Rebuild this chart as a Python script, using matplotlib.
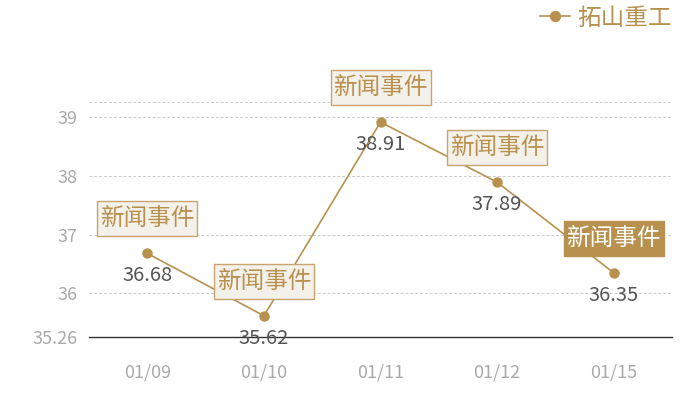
import matplotlib
matplotlib.use("Agg")
import matplotlib.pyplot as plt
from matplotlib.patches import Rectangle
from matplotlib.transforms import ScaledTranslation

plt.rcParams['font.family'] = ['Noto Sans CJK SC', 'DejaVu Sans']

categories = ["01/09", "01/10", "01/11", "01/12", "01/15"]
values = [36.68, 35.62, 38.91, 37.89, 36.35]
series_name = "拓山重工"
event_label = "新闻事件"
y_ticks = [35.26, 36, 37, 38, 39]
y_tick_labels = ["35.26", "36", "37", "38", "39"]
y_min, y_max = 35.26, 39.26

GOLD = "#b8914f"
BOX_FILL = "#f4f0ea"
BOX_EDGE = "#c9a46e"

fig = plt.figure(figsize=(7, 4), dpi=100)
ax = fig.add_axes([89/700, 63/400, 583/700, (337-101.5)/400])

x = list(range(len(categories)))
ax.plot(x, values, color=GOLD, lw=1.2, marker="o", ms=6.5, mfc=GOLD, mec=GOLD,
        zorder=3, label=series_name)

ax.set_xlim(-0.5, len(categories) - 0.5)
ax.set_ylim(y_min, y_max)
ax.set_yticks(y_ticks + [y_max])
ax.set_yticklabels(y_tick_labels + [""])
ax.set_xticks(x)
ax.set_xticklabels(categories)
ax.tick_params(axis="both", length=0, colors="#aaaaaa", labelsize=13)
ax.tick_params(axis="x", pad=19)
ax.tick_params(axis="y", pad=8)

ax.grid(axis="y", color="#cccccc", ls=(0, (3, 2)), lw=0.7)
ax.set_axisbelow(True)
for s in ["top", "right", "left"]:
    ax.spines[s].set_visible(False)
ax.spines["bottom"].set_color("#333333")
ax.spines["bottom"].set_linewidth(1)
ax.spines["bottom"].set_zorder(2)

box_w, box_h, box_dy = 1.0, 0.35, 0.345  # inches
for i, v in enumerate(values):
    ax.annotate(f"{v:.2f}", (i, v), xytext=(0, -16), textcoords="offset points",
                ha="center", va="center", fontsize=14.5, color="#555555", zorder=4)
    last = i == len(values) - 1
    trans = fig.dpi_scale_trans + ScaledTranslation(i, v, ax.transData)
    ax.add_patch(Rectangle((-box_w / 2, box_dy - box_h / 2), box_w, box_h,
                           transform=trans, fc=GOLD if last else BOX_FILL,
                           ec=GOLD if last else BOX_EDGE, lw=1, zorder=5,
                           clip_on=False))
    ax.text(0, box_dy, event_label, transform=trans, ha="center", va="center",
            fontsize=17, color="white" if last else GOLD, zorder=6)

leg = ax.legend(loc="center right", bbox_to_anchor=(1.0, 1 + 83.5 / 235.5),
                frameon=False, fontsize=17, handlelength=1.3, handletextpad=0.3,
                borderaxespad=0, borderpad=0, markerscale=1.1)
for t in leg.get_texts():
    t.set_color(GOLD)

fig.savefig("out.png", dpi=100)
